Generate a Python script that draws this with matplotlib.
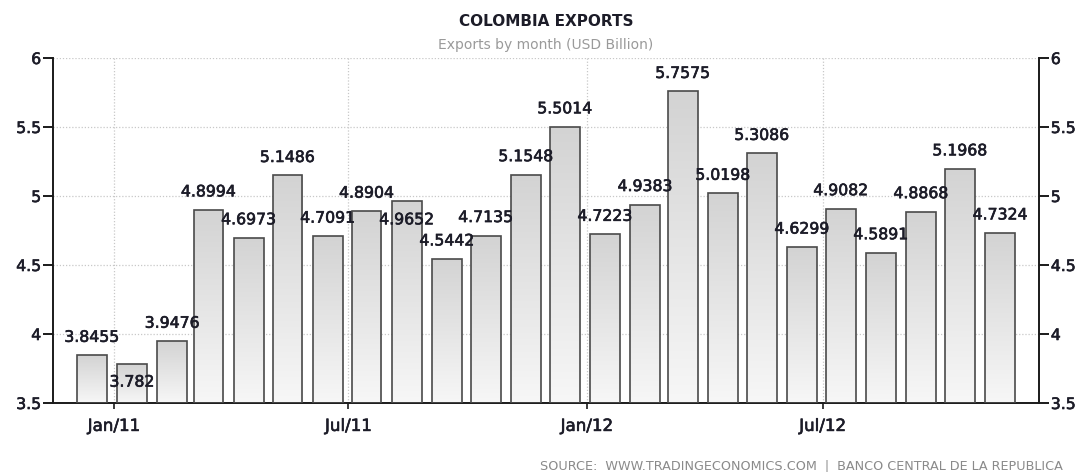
import datetime as dt
import numpy as np
import matplotlib
matplotlib.use("Agg")
import matplotlib.pyplot as plt
import matplotlib.dates as mdates
import matplotlib.patheffects as pe
from matplotlib.colors import LinearSegmentedColormap

# Monthly exports, Dec 2010 - Nov 2012 (USD billion)
months = [
    "2010-12", "2011-01", "2011-02", "2011-03", "2011-04", "2011-05",
    "2011-06", "2011-07", "2011-08", "2011-09", "2011-10", "2011-11",
    "2011-12", "2012-01", "2012-02", "2012-03", "2012-04", "2012-05",
    "2012-06", "2012-07", "2012-08", "2012-09", "2012-10", "2012-11",
]
exports = [
    3.8455, 3.782, 3.9476, 4.8994, 4.6973, 5.1486,
    4.7091, 4.8904, 4.9652, 4.5442, 4.7135, 5.1548,
    5.5014, 4.7223, 4.9383, 5.7575, 5.0198, 5.3086,
    4.6299, 4.9082, 4.5891, 4.8868, 5.1968, 4.7324,
]
x_tick_dates = ["2011-01-01", "2011-07-01", "2012-01-01", "2012-07-01"]
x_tick_labels = ["Jan/11", "Jul/11", "Jan/12", "Jul/12"]
y_ticks = [3.5, 4, 4.5, 5, 5.5, 6]
y_tick_labels = ["3.5", "4", "4.5", "5", "5.5", "6"]

# vertical offset (pixels) of each value label from its bar top
label_offset_px = [18] * len(exports)
label_offset_px[1] = -18
label_offset_px[8] = -19

DPI = 100
fig = plt.figure(figsize=(10.81, 4.72), dpi=DPI)
ax = fig.add_axes([53 / 1081, 1 - 403 / 472, (1039 - 53) / 1081, (403 - 58) / 472])

x = [mdates.date2num(dt.datetime.strptime(m + "-15", "%Y-%m-%d")) for m in months]
bar_width = 23.0
ymin, ymax = 3.5, 6.0

text_col = "#1c1c28"
heavy = [pe.withStroke(linewidth=0.45, foreground=text_col)]
cmap = LinearSegmentedColormap.from_list("barfill", ["#f7f7f7", "#d3d3d3"])
grad = np.linspace(0, 1, 256).reshape(-1, 1)

bars = ax.bar(x, [v - ymin for v in exports], bottom=ymin, width=bar_width,
              facecolor="none", edgecolor="#4a4a4a", linewidth=1.2, zorder=3)
for b, v in zip(bars, exports):
    x0 = b.get_x()
    im = ax.imshow(grad, cmap=cmap, aspect="auto", origin="lower",
                   extent=(x0, x0 + b.get_width(), ymin, v), zorder=2,
                   interpolation="bilinear")
    im.set_clip_path(b)

for xi, v, off in zip(x, exports, label_offset_px):
    ax.annotate(f"{v:g}", xy=(xi, v), xytext=(0, off * 72 / DPI),
                textcoords="offset points", ha="center", va="center",
                fontsize=11.3, color=text_col, zorder=5, path_effects=heavy)

ax.set_xlim(mdates.date2num(dt.datetime(2010, 11, 15)),
            mdates.date2num(dt.datetime(2012, 12, 15)))
ax.set_ylim(ymin, ymax)

xt = [mdates.date2num(dt.datetime.strptime(d, "%Y-%m-%d")) for d in x_tick_dates]
ax.set_xticks(xt)
ax.set_xticklabels(x_tick_labels)
ax.set_yticks(y_ticks)
ax.set_yticklabels(y_tick_labels)

ax.grid(True, color="#c8c8c8", linestyle=(0, (1, 1.5)), linewidth=0.9, zorder=0)
ax.set_axisbelow(True)

for s in ["left", "right", "bottom"]:
    ax.spines[s].set_color("#1a1a1a")
    ax.spines[s].set_linewidth(1.4)
ax.spines["top"].set_visible(False)

ax.tick_params(axis="y", which="both", left=True, right=True, labelleft=True,
               labelright=True, direction="out", length=7.5, width=1.4,
               color="#1a1a1a", labelsize=11.3, labelcolor=text_col, pad=1)
ax.tick_params(axis="x", direction="out", length=4, width=1.2, color="#1a1a1a",
               labelsize=12, labelcolor=text_col, pad=6)
for lab in ax.get_xticklabels() + ax.get_yticklabels():
    lab.set_path_effects(heavy)

fig.text(546 / 1081, 1 - 21 / 472, "COLOMBIA EXPORTS", ha="center", va="center",
         fontsize=11, fontweight="bold", color=text_col)
fig.text(546 / 1081, 1 - 45 / 472, "Exports by month (USD Billion)", ha="center",
         va="center", fontsize=10, color="#9a9a9a")
fig.text(1063 / 1081, 1 - 466 / 472,
         "SOURCE:  WWW.TRADINGECONOMICS.COM  |  BANCO CENTRAL DE LA REPUBLICA",
         ha="right", va="center", fontsize=9.2, color="#8a8a8a")

fig.savefig("out.png", dpi=DPI)
